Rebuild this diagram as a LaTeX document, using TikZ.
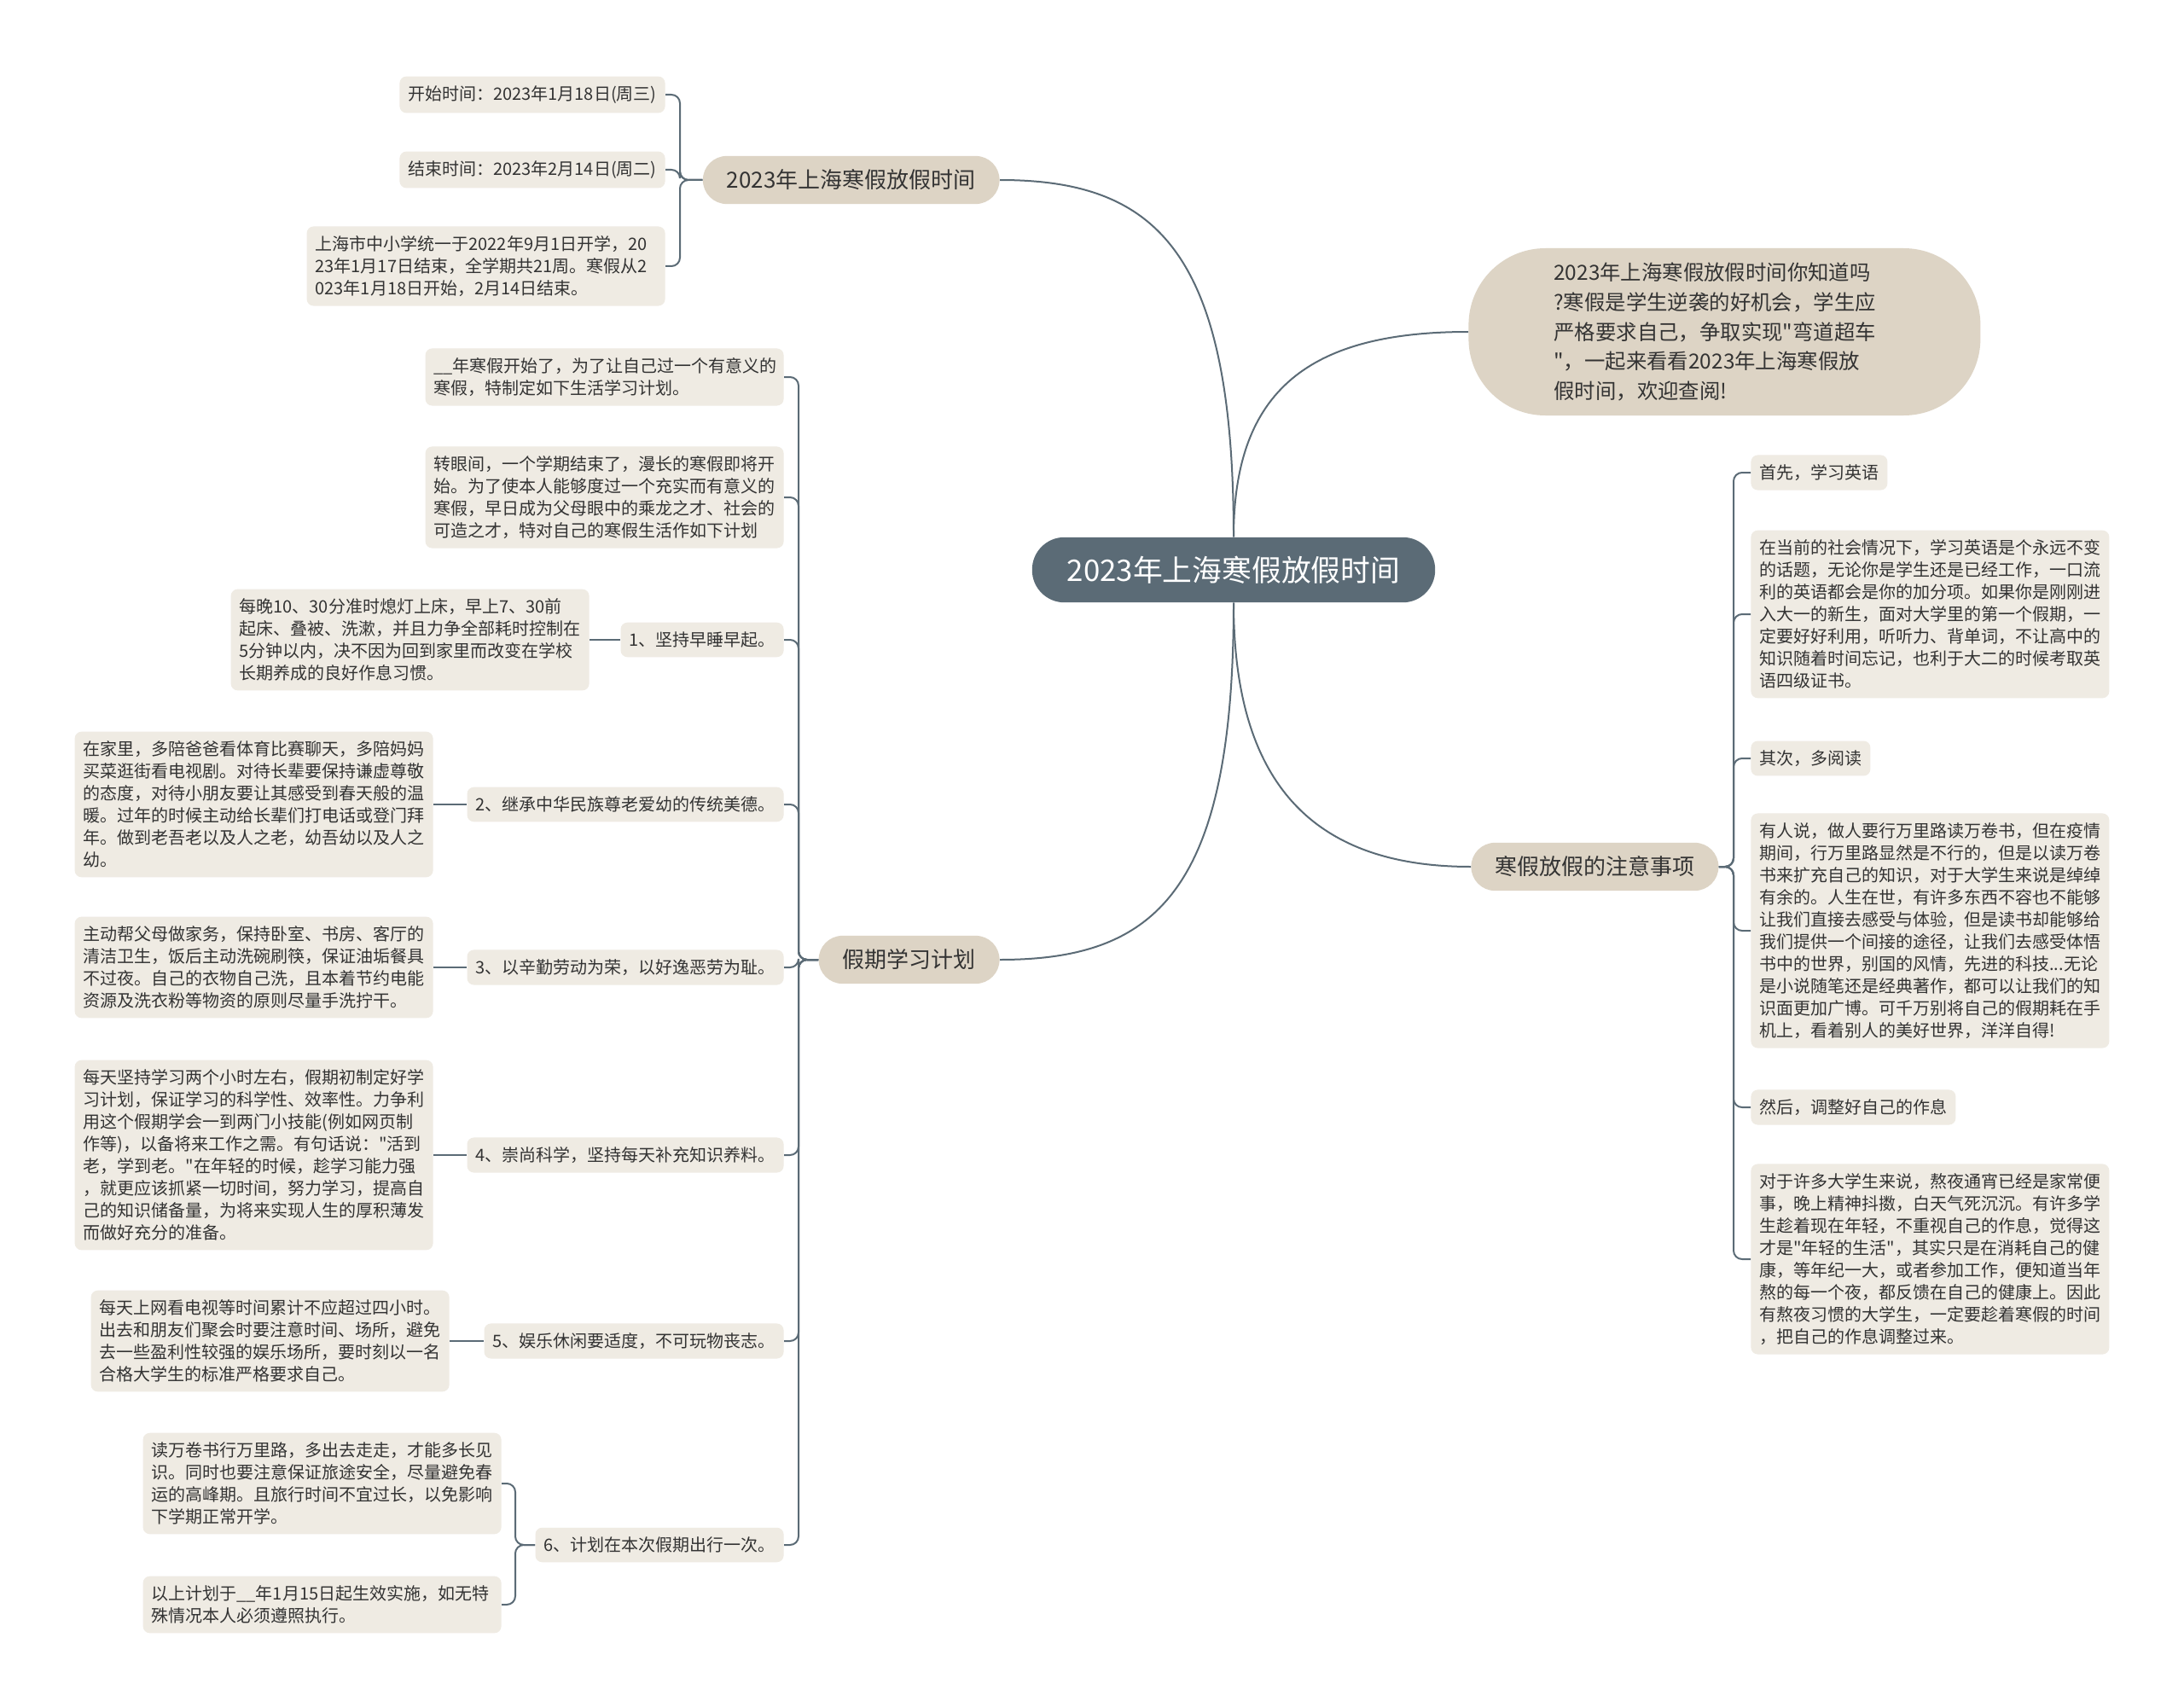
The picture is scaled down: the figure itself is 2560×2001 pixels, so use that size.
\documentclass[tikz,border=0pt]{standalone}
\usepackage{fontspec}
\setmainfont{Noto Sans CJK SC}[Ligatures=TeXOff]
\definecolor{rootfill}{HTML}{5B6B76}
\definecolor{topicfill}{HTML}{DDD4C5}
\definecolor{leaffill}{HTML}{EFEBE3}
\definecolor{linkcol}{HTML}{5B6B76}
\definecolor{txt}{HTML}{333333}
\begin{document}
\begin{tikzpicture}[x=0.5pt, y=-0.5pt,
        root/.style={rectangle, rounded corners=19pt, fill=rootfill, text=white, font=\fontsize{17.4pt}{20pt}\selectfont, inner xsep=20.5pt, inner ysep=11pt},
        topic/.style={rectangle, rounded corners=14pt, fill=topicfill, text=txt, font=\fontsize{13pt}{16pt}\selectfont, inner xsep=14pt, inner ysep=8pt},
        intro/.style={rectangle, rounded corners=45pt, fill=topicfill, text=txt, font=\fontsize{12.2pt}{17.3pt}\selectfont, text width=200pt, align=left, inner xsep=50pt, inner ysep=8pt, minimum height=98pt},
        leaf/.style={rectangle, rounded corners=4pt, fill=leaffill, text=txt, font=\fontsize{10pt}{13pt}\selectfont, inner xsep=5pt, inner ysep=5.5pt},
        note/.style={leaf, text width=200pt, align=left},
        link/.style={draw=linkcol, line width=1pt, rounded corners=5pt}
    ]
        \path[fill=white] (0,0) rectangle (2560,2001);
        \useasboundingbox (0,0) rectangle (2560,2001);

        \node[root] (C) at (1446,668) {2023年上海寒假放假时间};
        \node[topic, anchor=east] (B1) at (1172,211) {2023年上海寒假放假时间};
        \node[topic, anchor=east] (B2) at (1172,1125) {假期学习计划};
        \node[intro, anchor=west] (A) at (1721,389)
            {2023年上海寒假放假时间你知道吗\\?寒假是学生逆袭的好机会，学生应\\严格要求自己，争取实现"弯道超车\\"，一起来看看2023年上海寒假放\\假时间，欢迎查阅!};
        \node[topic, anchor=west] (B4) at (1724,1016) {寒假放假的注意事项};

        \node[leaf, anchor=east] (L1a) at (780,111) {开始时间：2023年1月18日(周三)};
        \node[leaf, anchor=east] (L1b) at (780,199) {结束时间：2023年2月14日(周二)};
        \node[note, anchor=east] (L1c) at (780,312)
            {上海市中小学统一于2022年9月1日开学，20\\23年1月17日结束，全学期共21周。寒假从2\\023年1月18日开始，2月14日结束。};

        \node[note, anchor=east] (P0) at (919,442)
            {\_\_年寒假开始了，为了让自己过一个有意义的\\寒假，特制定如下生活学习计划。};
        \node[note, anchor=east] (P1) at (919,583)
            {转眼间，一个学期结束了，漫长的寒假即将开\\始。为了使本人能够度过一个充实而有意义的\\寒假，早日成为父母眼中的乘龙之才、社会的\\可造之才，特对自己的寒假生活作如下计划};
        \node[leaf, anchor=east] (I1) at (919,750) {1、坚持早睡早起。};
        \node[leaf, anchor=east] (I2) at (919,943) {2、继承中华民族尊老爱幼的传统美德。};
        \node[leaf, anchor=east] (I3) at (919,1134) {3、以辛勤劳动为荣，以好逸恶劳为耻。};
        \node[leaf, anchor=east] (I4) at (919,1354) {4、崇尚科学，坚持每天补充知识养料。};
        \node[leaf, anchor=east] (I5) at (919,1572) {5、娱乐休闲要适度，不可玩物丧志。};
        \node[leaf, anchor=east] (I6) at (919,1811) {6、计划在本次假期出行一次。};

        \node[note, anchor=east] (I1c) at (691,750)
            {每晚10、30分准时熄灯上床，早上7、30前\\起床、叠被、洗漱，并且力争全部耗时控制在\\5分钟以内，决不因为回到家里而改变在学校\\长期养成的良好作息习惯。};
        \node[note, anchor=east] (I2c) at (508,943)
            {在家里，多陪爸爸看体育比赛聊天，多陪妈妈\\买菜逛街看电视剧。对待长辈要保持谦虚尊敬\\的态度，对待小朋友要让其感受到春天般的温\\暖。过年的时候主动给长辈们打电话或登门拜\\年。做到老吾老以及人之老，幼吾幼以及人之\\幼。};
        \node[note, anchor=east] (I3c) at (508,1134)
            {主动帮父母做家务，保持卧室、书房、客厅的\\清洁卫生，饭后主动洗碗刷筷，保证油垢餐具\\不过夜。自己的衣物自己洗，且本着节约电能\\资源及洗衣粉等物资的原则尽量手洗拧干。};
        \node[note, anchor=east] (I4c) at (508,1354)
            {每天坚持学习两个小时左右，假期初制定好学\\习计划，保证学习的科学性、效率性。力争利\\用这个假期学会一到两门小技能(例如网页制\\作等)，以备将来工作之需。有句话说："活到\\老，学到老。"在年轻的时候，趁学习能力强\\，就更应该抓紧一切时间，努力学习，提高自\\己的知识储备量，为将来实现人生的厚积薄发\\而做好充分的准备。};
        \node[note, anchor=east] (I5c) at (527,1572)
            {每天上网看电视等时间累计不应超过四小时。\\出去和朋友们聚会时要注意时间、场所，避免\\去一些盈利性较强的娱乐场所，要时刻以一名\\合格大学生的标准严格要求自己。};
        \node[note, anchor=east] (I6a) at (588,1739)
            {读万卷书行万里路，多出去走走，才能多长见\\识。同时也要注意保证旅途安全，尽量避免春\\运的高峰期。且旅行时间不宜过长，以免影响\\下学期正常开学。};
        \node[note, anchor=east] (I6b) at (588,1881)
            {以上计划于\_\_年1月15日起生效实施，如无特\\殊情况本人必须遵照执行。};

        \node[leaf, anchor=west] (R1) at (2052,554) {首先，学习英语};
        \node[note, anchor=west] (R1c) at (2052,720)
            {在当前的社会情况下，学习英语是个永远不变\\的话题，无论你是学生还是已经工作，一口流\\利的英语都会是你的加分项。如果你是刚刚进\\入大一的新生，面对大学里的第一个假期，一\\定要好好利用，听听力、背单词，不让高中的\\知识随着时间忘记，也利于大二的时候考取英\\语四级证书。};
        \node[leaf, anchor=west] (R2) at (2052,889) {其次，多阅读};
        \node[note, anchor=west] (R2c) at (2052,1091)
            {有人说，做人要行万里路读万卷书，但在疫情\\期间，行万里路显然是不行的，但是以读万卷\\书来扩充自己的知识，对于大学生来说是绰绰\\有余的。人生在世，有许多东西不容也不能够\\让我们直接去感受与体验，但是读书却能够给\\我们提供一个间接的途径，让我们去感受体悟\\书中的世界，别国的风情，先进的科技...无论\\是小说随笔还是经典著作，都可以让我们的知\\识面更加广博。可千万别将自己的假期耗在手\\机上，看着别人的美好世界，洋洋自得!};
        \node[leaf, anchor=west] (R3) at (2052,1298) {然后，调整好自己的作息};
        \node[note, anchor=west] (R3c) at (2052,1476)
            {对于许多大学生来说，熬夜通宵已经是家常便\\事，晚上精神抖擞，白天气死沉沉。有许多学\\生趁着现在年轻，不重视自己的作息，觉得这\\才是"年轻的生活"，其实只是在消耗自己的健\\康，等年纪一大，或者参加工作，便知道当年\\熬的每一个夜，都反馈在自己的健康上。因此\\有熬夜习惯的大学生，一定要趁着寒假的时间\\，把自己的作息调整过来。};

        \coordinate (bus1) at (797,211);
        \coordinate (bus2) at (936,1125);
        \coordinate (bus4) at (2032,1016);
        \coordinate (bus6) at (604,1811);

        \draw[link] (C.north) .. controls (1446,294) and (1355,211) .. (B1.east);
        \draw[link] (C.north) .. controls (1446,457) and (1535,389) .. (A.west);
        \draw[link] (C.south) .. controls (1446,1045) and (1355,1125) .. (B2.east);
        \draw[link] (C.south) .. controls (1446,914) and (1535,1016) .. (B4.west);

        \foreach \n in {L1a,L1b,L1c}
            \draw[link] (B1.west) -- (bus1) |- (\n.east);
        \foreach \n in {P0,P1,I1,I2,I3,I4,I5,I6}
            \draw[link] (B2.west) -- (bus2) |- (\n.east);
        \foreach \n in {I6a,I6b}
            \draw[link] (I6.west) -- (bus6) |- (\n.east);
        \foreach \p/\c in {I1/I1c,I2/I2c,I3/I3c,I4/I4c,I5/I5c}
            \draw[link] (\p.west) -- (\c.east);
        \foreach \n in {R1,R1c,R2,R2c,R3,R3c}
            \draw[link] (B4.east) -- (bus4) |- (\n.west);
    \end{tikzpicture}
\end{document}
